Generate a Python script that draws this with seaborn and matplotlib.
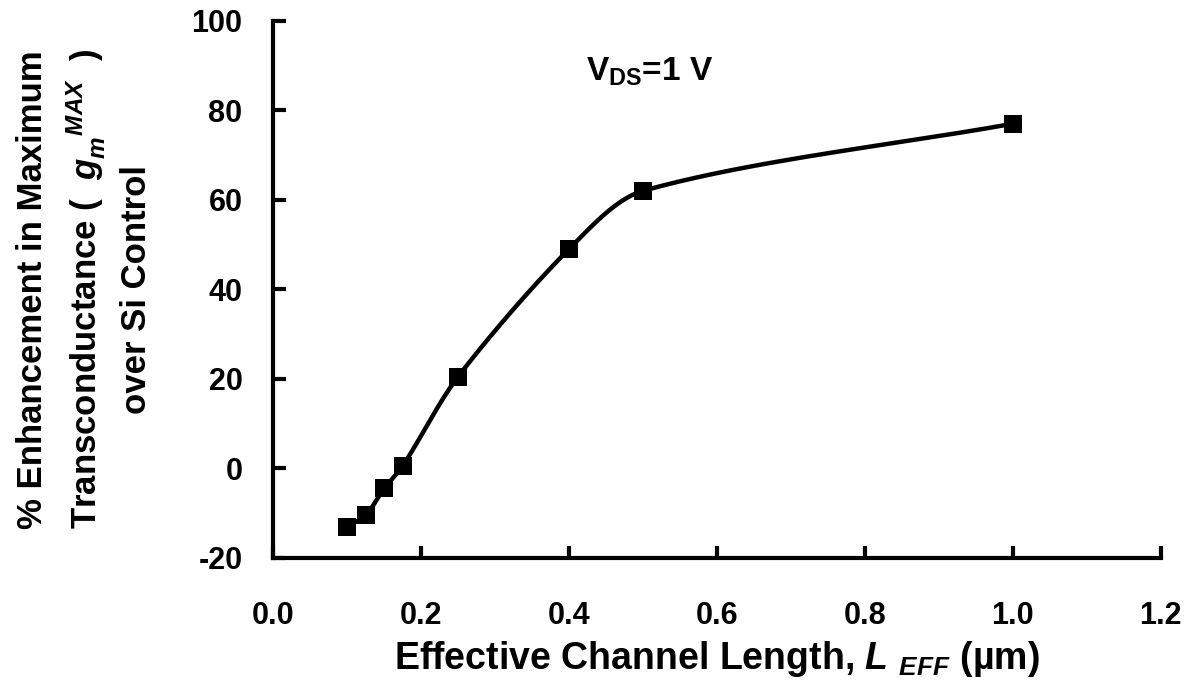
import numpy as np
import pandas as pd
import matplotlib
matplotlib.use("Agg")
import matplotlib.pyplot as plt
import seaborn as sns

# Effective channel length (um) and % enhancement in peak transconductance
l_eff = [0.1, 0.125, 0.15, 0.175, 0.25, 0.4, 0.5, 1.0]
enhancement = [-13.0, -10.5, -4.5, 0.5, 20.5, 49.0, 62.0, 77.0]

x_ticks = [0.0, 0.2, 0.4, 0.6, 0.8, 1.0, 1.2]
y_ticks = [-20, 0, 20, 40, 60, 80, 100]

sns.set_theme(style="white")
plt.rcParams["font.family"] = ["Liberation Sans", "DejaVu Sans"]
plt.rcParams["font.weight"] = "bold"
plt.rcParams["text.color"] = "black"
plt.rcParams["axes.labelcolor"] = "black"
plt.rcParams["xtick.color"] = "black"
plt.rcParams["ytick.color"] = "black"
plt.rcParams["mathtext.fontset"] = "custom"
plt.rcParams["mathtext.rm"] = "Liberation Sans:bold"
plt.rcParams["mathtext.bf"] = "Liberation Sans:bold"
plt.rcParams["mathtext.it"] = "Liberation Sans:italic:bold"


def smooth_curve(xs, ys, n=40, k=0.3):
    """Bezier smoothing through the points, handles scaled by chord length."""
    px = np.asarray(xs, float)
    py = np.asarray(ys, float)
    # work in display-like proportions so the handles are isotropic
    sx, sy = 740.0, 4.467
    P = np.column_stack([px * sx, py * sy])
    out = []
    for i in range(len(P) - 1):
        p0 = P[i - 1] if i > 0 else P[i]
        p1 = P[i]
        p2 = P[i + 1]
        p3 = P[i + 2] if i + 2 < len(P) else P[i + 1]
        seg_len = np.linalg.norm(p2 - p1)
        d1 = p2 - p0
        d1 = d1 / np.linalg.norm(d1)
        d2 = p3 - p1
        d2 = d2 / np.linalg.norm(d2)
        c1 = p1 + d1 * seg_len * k
        c2 = p2 - d2 * seg_len * k
        t = np.linspace(0, 1, n)[:, None]
        seg = ((1 - t) ** 3) * p1 + 3 * ((1 - t) ** 2) * t * c1 + 3 * (1 - t) * t ** 2 * c2 + t ** 3 * p2
        out.append(seg if i == 0 else seg[1:])
    C = np.vstack(out)
    return C[:, 0] / sx, C[:, 1] / sy


df = pd.DataFrame({"L": l_eff, "E": enhancement})
cx, cy = smooth_curve(l_eff, enhancement)
curve = pd.DataFrame({"L": cx, "E": cy})

fig = plt.figure(figsize=(11.98, 6.93), dpi=100)
ax = fig.add_axes([0.228, 0.195, 0.741, 0.775])

sns.lineplot(data=curve, x="L", y="E", ax=ax, color="black", linewidth=3.2,
             sort=False, estimator=None)
sns.scatterplot(data=df, x="L", y="E", ax=ax, marker="s", s=180, color="black",
                edgecolor="black", linewidth=0, zorder=5)

ax.set_xlim(0.0, 1.2)
ax.set_ylim(-20, 100)
ax.set_xticks(x_ticks)
ax.set_yticks(y_ticks)
ax.set_xticklabels([f"{v:.1f}" for v in x_ticks], fontsize=22, fontweight="bold")
ax.set_yticklabels([f"{v:d}" for v in y_ticks], fontsize=22, fontweight="bold")

for side in ["top", "right"]:
    ax.spines[side].set_visible(False)
for side in ["left", "bottom"]:
    ax.spines[side].set_linewidth(3)
    ax.spines[side].set_color("black")

ax.tick_params(axis="both", direction="in", length=9, width=3, color="black",
               bottom=True, left=True, top=False, right=False)
ax.tick_params(axis="y", pad=22)
ax.tick_params(axis="x", pad=31)

ax.set_xlabel(r"Effective Channel Length, $\mathit{L}$ $_{\mathit{EFF}}$ (µm)",
              fontsize=27, fontweight="bold", labelpad=6)
ax.set_ylabel("% Enhancement in Maximum\n"
              r"Transconductance (  $\mathit{g}_{\mathit{m}}^{\ \ \ \mathit{MAX}}$  )" "\n"
              "over Si Control",
              fontsize=25, fontweight="bold", linespacing=1.45, labelpad=28)

ax.text(0.423, 88.5, r"V$_{\mathbf{DS}}$=1 V", fontsize=24, fontweight="bold",
        ha="left", va="center")

fig.savefig("out.png", dpi=100)
